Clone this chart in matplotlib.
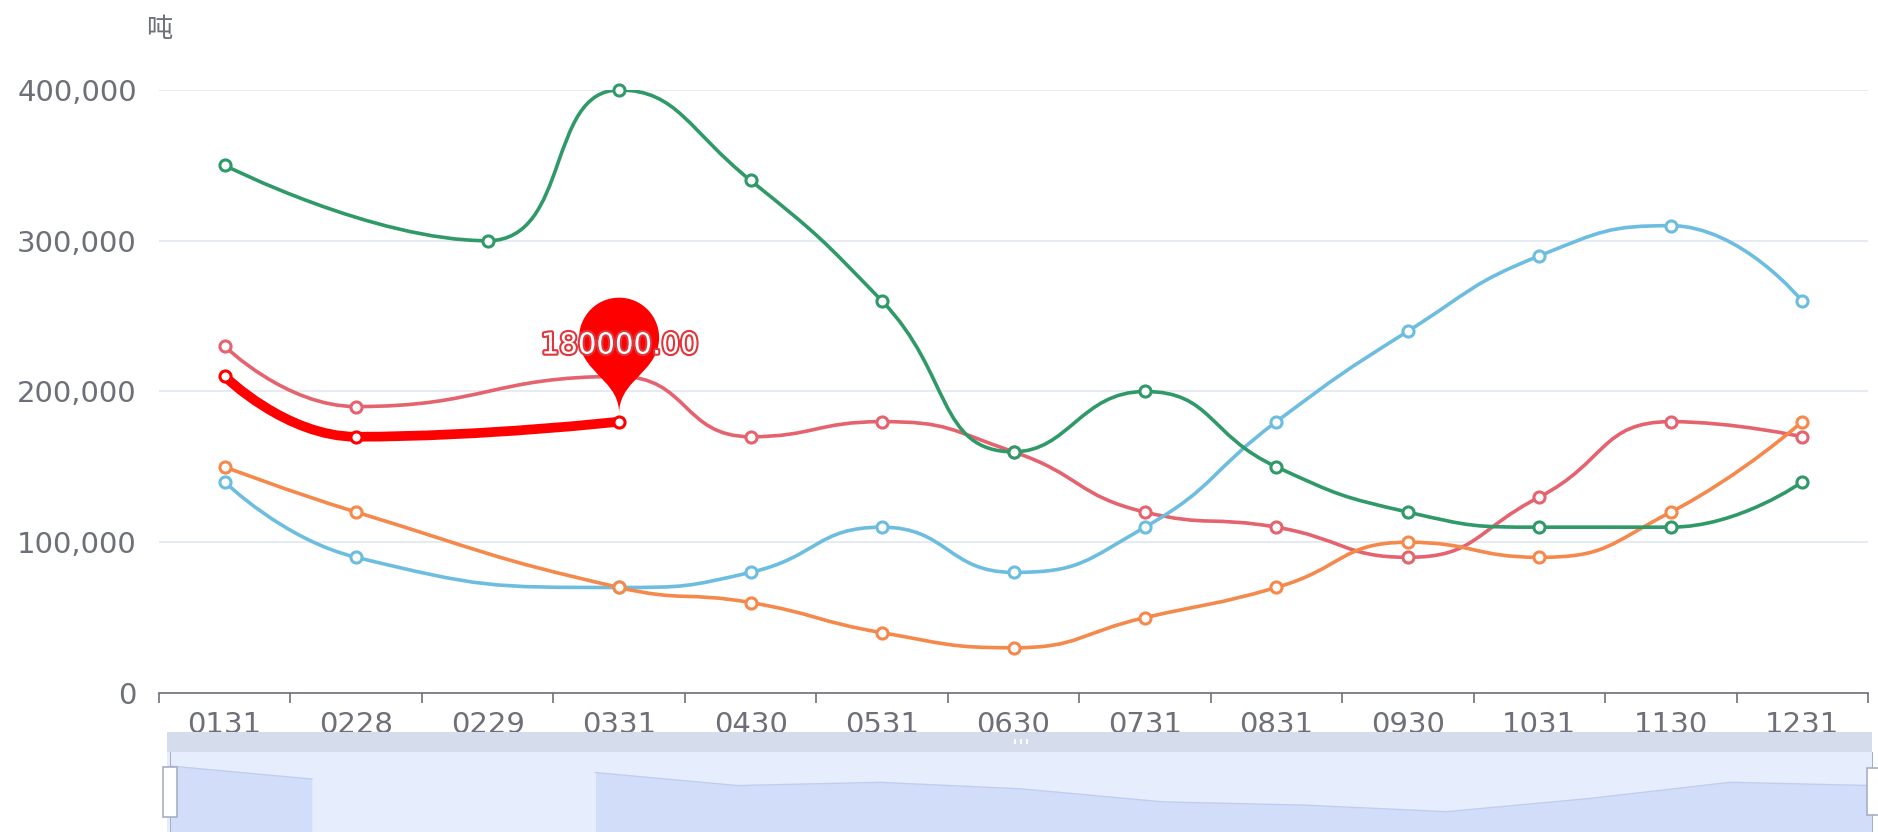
import numpy as np
import matplotlib
matplotlib.use("Agg")
import matplotlib.pyplot as plt
from matplotlib.path import Path
from matplotlib.patches import PathPatch, Rectangle
import matplotlib.transforms as mtransforms
import matplotlib.patheffects as pe
from matplotlib.ticker import FuncFormatter, FixedLocator

plt.rcParams['font.family'] = ['DejaVu Sans', 'Noto Sans CJK SC']

# data
cats = ['0131', '0228', '0229', '0331', '0430', '0531', '0630',
        '0731', '0831', '0930', '1031', '1130', '1231']
red = [230000, 190000, None, 210000, 170000, 180000, 160000,
       120000, 110000, 90000, 130000, 180000, 170000]
blue = [140000, 90000, None, 70000, 80000, 110000, 80000,
        110000, 180000, 240000, 290000, 310000, 260000]
green = [350000, None, 300000, 400000, 340000, 260000, 160000,
         200000, 150000, 120000, 110000, 110000, 140000]
orange = [150000, 120000, None, 70000, 60000, 40000, 30000,
          50000, 70000, 100000, 90000, 120000, 180000]
highlight = [210000, 170000, None, 180000, None, None, None,
             None, None, None, None, None, None]
pin_idx = 3
pin_value = 180000
yticks = [0, 100000, 200000, 300000, 400000]

W, H = 1878, 832
DPI = 100
GRAY = '#6e7079'


def frac(x0, y0, x1, y1):
    # pixel box (top-down) -> figure fraction [l, b, w, h]
    return [x0 / W, (H - y1) / H, (x1 - x0) / W, (y1 - y0) / H]


def smooth_path(ax, xs, ys, s=0.5):
    # echarts-like smooth bezier computed in pixel space
    pts = ax.transData.transform(np.column_stack([xs, ys]))
    n = len(pts)
    cps_out = [None] * n
    cps_in = [None] * n
    for i in range(n):
        x, y = pts[i]
        if i == 0 or i == n - 1:
            cps_in[i] = (x, y)
            cps_out[i] = (x, y)
            continue
        px_, py_ = pts[i - 1]
        nx, ny = pts[i + 1]
        vx, vy = nx - px_, ny - py_
        d0 = np.hypot(x - px_, y - py_)
        d1 = np.hypot(nx - x, ny - y)
        r = d1 / (d0 + d1)
        cx1 = x + vx * s * r
        cy1 = y + vy * s * r
        cx1 = min(cx1, max(nx, x)); cx1 = max(cx1, min(nx, x))
        cy1 = min(cy1, max(ny, y)); cy1 = max(cy1, min(ny, y))
        vx, vy = cx1 - x, cy1 - y
        cx0 = x - vx * d0 / d1
        cy0 = y - vy * d0 / d1
        cx0 = min(cx0, max(px_, x)); cx0 = max(cx0, min(px_, x))
        cy0 = min(cy0, max(py_, y)); cy0 = max(cy0, min(py_, y))
        vx, vy = x - cx0, y - cy0
        cx1 = x + vx * d1 / d0
        cy1 = y + vy * d1 / d0
        cps_in[i] = (cx0, cy0)
        cps_out[i] = (cx1, cy1)
    verts = [tuple(pts[0])]
    codes = [Path.MOVETO]
    for i in range(1, n):
        verts += [cps_out[i - 1], cps_in[i], tuple(pts[i])]
        codes += [Path.CURVE4] * 3
    verts = ax.transData.inverted().transform(np.array(verts))
    return Path(verts, codes)


fig = plt.figure(figsize=(W / DPI, H / DPI), dpi=DPI)
fig.patch.set_facecolor('white')
ax = fig.add_axes(frac(159, 90, 1868, 693))
ax.set_xlim(-0.5, len(cats) - 0.5)
ax.set_ylim(0, 400000)

for sp in ['top', 'right', 'left']:
    ax.spines[sp].set_visible(False)
ax.spines['bottom'].set_color(GRAY)
ax.spines['bottom'].set_linewidth(1.2)

ax.yaxis.set_major_locator(FixedLocator(yticks))
ax.yaxis.set_major_formatter(FuncFormatter(lambda v, p: f'{v:,.0f}'))
ax.tick_params(axis='y', length=0, pad=16, labelsize=21, labelcolor=GRAY)
ax.grid(axis='y', color='#e0e6f1', linewidth=1.2, zorder=0)
ax.set_axisbelow(True)

ax.set_xticks(range(len(cats)))
ax.set_xticklabels(cats)
ax.set_xticks(np.arange(-0.5, len(cats), 1.0), minor=True)
ax.tick_params(axis='x', which='major', length=0, pad=13, labelsize=21, labelcolor=GRAY)
ax.tick_params(axis='x', which='minor', length=7, width=1.2, color=GRAY)

ax.text(0.0, 1.0 + 47 / 603, '吨', transform=ax.transAxes, fontsize=19,
        color=GRAY, ha='center', va='bottom')

series = [
    (red, '#e4636f', 2.6, 4),
    (green, '#2f9968', 2.6, 5),
    (blue, '#6cbde0', 2.6, 4),
    (orange, '#f5884b', 2.6, 4),
    (highlight, '#ff0000', 7.0, 6),
]

fig.canvas.draw()
for vals, col, lw, z in series:
    xs = [i for i, v in enumerate(vals) if v is not None]
    ys = [v for v in vals if v is not None]
    path = smooth_path(ax, xs, ys)
    ax.add_patch(PathPatch(path, fill=False, edgecolor=col, linewidth=lw,
                           capstyle='round', joinstyle='round', zorder=z))
    ax.plot(xs, ys, 'o', ms=8, mfc='white', mec=col, mew=2.2, zorder=z + 0.5,
            clip_on=False)

# marker pin
r = 40.0
vis_h = 116.0
u = (vis_h - r + np.sqrt((vis_h - r) ** 2 + 4 * r * r)) / 2
h = u + r
dy = r * r / (h - r)
cy = -h + r + dy
ang = np.arcsin(dy / r)
dx = np.cos(ang) * r
tx, ty = np.sin(ang), np.cos(ang)
cl, cl2 = r * 0.6, r * 0.7
th = np.linspace(np.pi - ang, 2 * np.pi + ang, 60)
verts = [(r * np.cos(t), cy + r * np.sin(t)) for t in th]
codes = [Path.MOVETO] + [Path.LINETO] * (len(th) - 1)
verts += [(dx - tx * cl, cy + dy + ty * cl), (0, -cl2), (0, 0)]
verts += [(0, -cl2), (-dx + tx * cl, cy + dy + ty * cl), (-dx, cy + dy)]
codes += [Path.CURVE4] * 6
verts += [(0, 0)]
codes += [Path.CLOSEPOLY]
pin = Path(np.array(verts), codes)
pin_tr = mtransforms.Affine2D().scale(1, -1).translate(0, 8) + \
    mtransforms.ScaledTranslation(pin_idx, pin_value, ax.transData)
ax.add_patch(PathPatch(pin, facecolor='#ff0000', edgecolor='none',
                       transform=pin_tr, zorder=10, clip_on=False))
ax.annotate(f'{pin_value:.2f}', xy=(pin_idx, pin_value), xytext=(0, 76),
            textcoords='offset pixels', ha='center', va='center',
            color='white', fontsize=21, zorder=11,
            path_effects=[pe.withStroke(linewidth=3, foreground='#e0353b')])

# data zoom slider
band = fig.add_axes(frac(167, 732, 1872, 752))
band.set_facecolor('#d5dcec')
band.set_xticks([]); band.set_yticks([])
for sp in band.spines.values():
    sp.set_visible(False)
band.set_zorder(5)
for k in (-6, 0, 6):
    band.add_patch(Rectangle((0.5 + k / 1705, 0.4), 2 / 1705, 0.25,
                             transform=band.transAxes, facecolor='white',
                             edgecolor='none'))

sl = fig.add_axes(frac(167, 752, 1872, 850))
sl.set_facecolor('#e6edfc')
sl.set_xlim(-3 / 141.8, 12)
sl.set_ylim(-27600, 273000)
sl.set_xticks([]); sl.set_yticks([])
for sp in sl.spines.values():
    sp.set_visible(False)
sl.set_zorder(5)
seg_x, seg_y = [], []
for i, v in enumerate(red + [None]):
    if v is None:
        if seg_x:
            sl.fill_between(seg_x, seg_y, -27600, color='#d2ddf9', linewidth=0)
            sl.plot(seg_x, seg_y, color='#bfcdf0', linewidth=1)
            seg_x, seg_y = [], []
    else:
        seg_x.append(i)
        seg_y.append(v)

for x0, y0, x1, y1 in [(163, 767, 177, 817), (1867, 768, 1881, 815)]:
    fig.add_artist(Rectangle((x0 / W, (H - y1) / H), (x1 - x0) / W, (y1 - y0) / H,
                             transform=fig.transFigure, facecolor='white',
                             edgecolor='#a7b0c3', linewidth=1.2, zorder=20))
for xx in [170, 1872]:
    fig.add_artist(Rectangle((xx / W, 0), 1.2 / W, (H - 752) / H,
                             transform=fig.transFigure, facecolor='#a7b0c3',
                             edgecolor='none', zorder=19))

fig.savefig('out.png', dpi=DPI, facecolor='white')
